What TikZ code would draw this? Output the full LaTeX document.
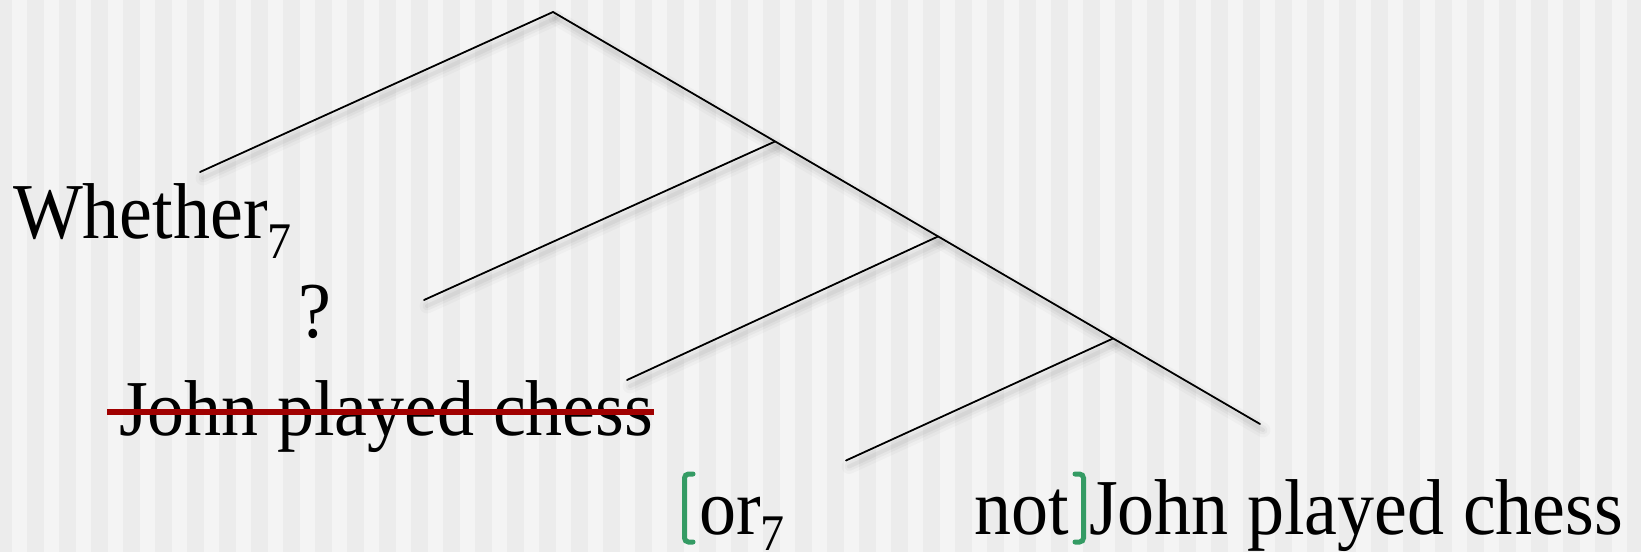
\documentclass[tikz,border=0pt]{standalone}
\usepackage{fontspec}
\setmainfont{Liberation Serif}
\definecolor{bgdark}{HTML}{ECECEC}
\definecolor{bglight}{HTML}{F4F4F4}
\definecolor{strikered}{RGB}{160,0,0}
\definecolor{brkgreen}{RGB}{52,155,100}
\tikzset{
  treeline/.style={line width=1.8pt, black, line cap=round},
  shadeA/.style={line width=15pt, black, opacity=0.022, line cap=round},
  shadeB/.style={line width=9pt, black, opacity=0.032, line cap=round},
  shadeC/.style={line width=4pt, black, opacity=0.04, line cap=round},
  txt/.style={inner sep=0pt, outer sep=0pt, anchor=base west, font=\fontsize{74}{80}\selectfont},
  strike/.style={line width=5.5pt, strikered},
  brk/.style={line width=5pt, brkgreen, rounded corners=4pt, line cap=round},
}
\newcommand{\subsev}[1]{\raisebox{-#1}{\fontsize{48}{50}\selectfont 7}}
\newcommand{\tall}[1]{\scalebox{1}[1.07]{#1}}
\begin{document}
\begin{tikzpicture}[x=1pt,y=-1pt]
\useasboundingbox (0,0) rectangle (1641,552);
\fill[bgdark] (0,0) rectangle (1641,552);
\foreach \k in {0,...,51} {
  \fill[bglight] ({12+32*\k},0) rectangle ({27+32*\k},552);
}
% tree coordinates
\coordinate (root) at (553,12);
\coordinate (mend) at (1260,424);
\coordinate (n1) at (775,141.5);
\coordinate (n2) at (938,236.5);
\coordinate (n3) at (1113,338.5);
\coordinate (l0) at (200,172);
\coordinate (l1) at (424,300);
\coordinate (l2) at (627,380);
\coordinate (l3) at (846,460.5);
% shadows
\begin{scope}[transform canvas={shift={(3pt,-6pt)}}]
  \foreach \s in {shadeA,shadeB,shadeC} {
    \draw[\s] (l0) -- (root);
    \draw[\s] (root) -- (mend);
    \draw[\s] (n1) -- (l1);
    \draw[\s] (n2) -- (l2);
    \draw[\s] (n3) -- (l3);
  }
\end{scope}
% tree lines
\draw[treeline] (l0) -- (root) -- (mend);
\draw[treeline] (n1) -- (l1);
\draw[treeline] (n2) -- (l2);
\draw[treeline] (n3) -- (l3);
% texts
\node[txt] (whether) at (13,238) {\tall{Whether\subsev{19pt}}};
\node[txt] (q) at (298,337) {\tall{?}};
\node[txt] (struck) at (119,435) {\tall{John played chess}};
\draw[strike] ([xshift=-12pt,yshift=23pt]struck.base west) -- ([xshift=1pt,yshift=23pt]struck.base east);
\node[txt] (or) at (699,534) {\tall{or\subsev{15pt}}};
\node[txt] (not) at (974,534) {\tall{not}};
\node[txt] (jpc) at (1089,534) {\tall{John played chess}};
% green brackets
\draw[brk] (693,474) -- (684.5,474) -- (684.5,542) -- (693,542);
\draw[brk] (1075,474) -- (1083.5,474) -- (1083.5,542) -- (1075,542);
\end{tikzpicture}
\end{document}
